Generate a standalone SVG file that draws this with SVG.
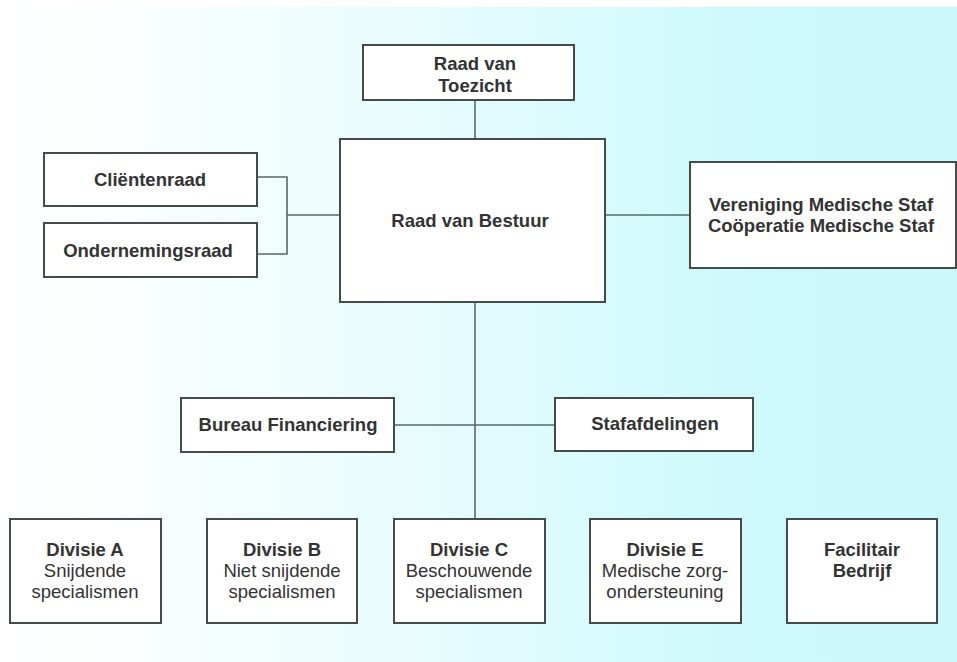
<svg xmlns="http://www.w3.org/2000/svg" width="957" height="662" viewBox="0 0 957 662">
<defs>
<linearGradient id="bg" x1="0" y1="0" x2="957" y2="0" gradientUnits="userSpaceOnUse">
<stop offset="0" stop-color="#ffffff"/>
<stop offset="0.12" stop-color="#fbfefe"/>
<stop offset="0.45" stop-color="#e6fcfd"/>
<stop offset="0.75" stop-color="#cff9fc"/>
<stop offset="1" stop-color="#cbf8fb"/>
</linearGradient>
<style>
.box{fill:#ffffff;stroke:#454a4a;stroke-width:2}
.t{font-family:"Liberation Sans",Arial,sans-serif;font-size:18.5px;font-weight:bold;fill:#333333;text-anchor:middle}
.r{font-weight:normal}
.c{fill:none;stroke:#5b6767;stroke-width:1.6}
</style>
</defs>
<rect x="0" y="0" width="957" height="662" fill="#ffffff"/>
<rect x="0" y="7" width="957" height="655" fill="url(#bg)"/>
<g id="connectors">
<line class="c" x1="475" y1="101" x2="475" y2="140"/>
<polyline class="c" points="257,177 287,177 287,254 257,254"/>
<line class="c" x1="287" y1="215" x2="340" y2="215"/>
<line class="c" x1="605" y1="215" x2="690" y2="215"/>
<line class="c" x1="475" y1="303" x2="475" y2="519"/>
<line class="c" x1="394" y1="425" x2="555" y2="425"/>
</g>
<g id="raad-van-toezicht">
<rect class="box" x="363" y="45" width="211" height="55"/>
<text class="t" x="475" y="70">Raad van</text>
<text class="t" x="475" y="92">Toezicht</text>
</g>
<g id="raad-van-bestuur">
<rect class="box" x="340" y="139" width="265" height="163"/>
<text class="t" x="470" y="227">Raad van Bestuur</text>
</g>
<g id="clientenraad">
<rect class="box" x="44" y="153" width="213" height="53"/>
<text class="t" x="150" y="186">Cliëntenraad</text>
</g>
<g id="ondernemingsraad">
<rect class="box" x="44" y="223" width="213" height="54"/>
<text class="t" x="148" y="257">Ondernemingsraad</text>
</g>
<g id="medische-staf">
<rect class="box" x="690" y="162" width="266" height="106"/>
<text class="t" x="821" y="211">Vereniging Medische Staf</text>
<text class="t" x="821" y="232">Coöperatie Medische Staf</text>
</g>
<g id="bureau-financiering">
<rect class="box" x="181" y="398" width="213" height="54"/>
<text class="t" x="288" y="431">Bureau Financiering</text>
</g>
<g id="stafafdelingen">
<rect class="box" x="555" y="398" width="198" height="53"/>
<text class="t" x="655" y="430">Stafafdelingen</text>
</g>
<g id="divisie-a">
<rect class="box" x="10" y="519" width="151" height="104"/>
<text class="t" x="85" y="556">Divisie A</text>
<text class="t r" x="85" y="577">Snijdende</text>
<text class="t r" x="85" y="598">specialismen</text>
</g>
<g id="divisie-b">
<rect class="box" x="207" y="519" width="150" height="104"/>
<text class="t" x="282" y="556">Divisie B</text>
<text class="t r" x="282" y="577">Niet snijdende</text>
<text class="t r" x="282" y="598">specialismen</text>
</g>
<g id="divisie-c">
<rect class="box" x="394" y="519" width="151" height="104"/>
<text class="t" x="469" y="556">Divisie C</text>
<text class="t r" x="469" y="577">Beschouwende</text>
<text class="t r" x="469" y="598">specialismen</text>
</g>
<g id="divisie-e">
<rect class="box" x="590" y="519" width="151" height="104"/>
<text class="t" x="665" y="556">Divisie E</text>
<text class="t r" x="665" y="577">Medische zorg-</text>
<text class="t r" x="665" y="598">ondersteuning</text>
</g>
<g id="facilitair-bedrijf">
<rect class="box" x="787" y="519" width="150" height="104"/>
<text class="t" x="862" y="556">Facilitair</text>
<text class="t" x="862" y="577">Bedrijf</text>
</g>
</svg>
